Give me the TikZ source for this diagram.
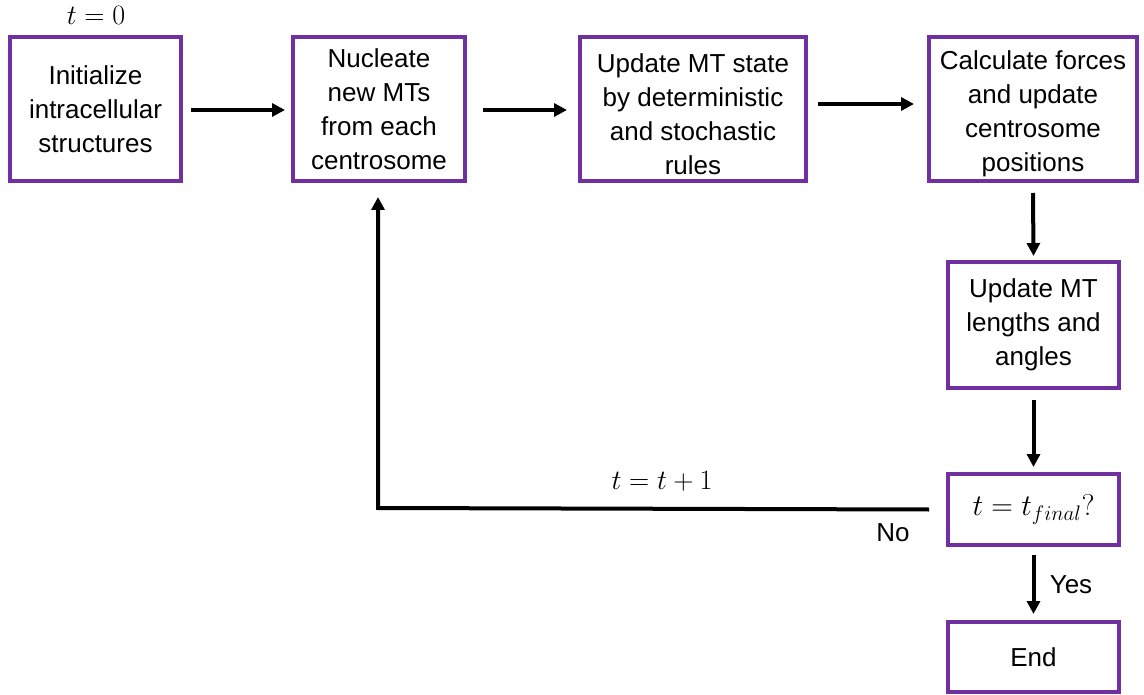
\RequirePackage{fix-cm}
\documentclass[tikz,border=0pt]{standalone}
\usepackage{fontspec}
\setmainfont{Liberation Sans}
\usetikzlibrary{arrows.meta}
\definecolor{boxpurple}{HTML}{7030A0}
\newcommand{\lift}{\rule{0pt}{29pt}}
\begin{document}
\begin{tikzpicture}[x=1pt,y=-1pt,
  stepbox/.style={draw=boxpurple,line width=4pt,fill=white,align=center,inner sep=0pt,
    font=\fontsize{26}{34}\selectfont},
  flow/.style={line width=4pt,-{Triangle[length=13pt,width=13pt]}},
  lbl/.style={inner sep=0pt,font=\fontsize{26}{30}\selectfont},
  mlbl/.style={inner sep=0pt,font=\fontsize{28}{30}\selectfont}]
\useasboundingbox (0,0) rectangle (1144,695);
\node[stepbox,minimum width=171pt,minimum height=144pt] (init) at (95.5,109) {Initialize\\intracellular\\structures};
\node[stepbox,minimum width=172pt,minimum height=144pt] (nuc) at (379,109) {Nucleate\\new MTs\\from each\\centrosome};
\node[stepbox,minimum width=226pt,minimum height=144pt] (upd) at (693,109) {\lift Update MT state\\by deterministic\\and stochastic\\rules};
\node[stepbox,minimum width=208pt,minimum height=144pt] (calc) at (1033,109) {\lift Calculate forces\\and update\\centrosome\\positions};
\node[stepbox,minimum width=171pt,minimum height=126pt] (len) at (1033.5,325) {Update MT\\lengths and\\angles};
\node[stepbox,minimum width=171pt,minimum height=71pt,font=\fontsize{30}{34}\selectfont] (dec) at (1033.5,509.5) {$t=t_{final}?$};
\node[stepbox,minimum width=171pt,minimum height=70pt] (end) at (1033.5,657) {End};

\node[mlbl] (t0) at (96,15) {$t=0$};
\node[mlbl] (tinc) at (662,481) {$t=t+1$};
\node[lbl] (no) at (893,533) {No};
\node[lbl] (yes) at (1071,585) {Yes};

\coordinate (a1s) at (191,110); \coordinate (a1e) at (285,110);
\draw[flow] (a1s) -- (a1e);
\coordinate (a2s) at (483,110); \coordinate (a2e) at (567,110);
\draw[flow] (a2s) -- (a2e);
\coordinate (a3s) at (818,104); \coordinate (a3e) at (914,104);
\draw[flow] (a3s) -- (a3e);
\draw[flow] ([yshift=-10pt]calc.south) -- ([yshift=4pt]len.north);
\draw[flow] ([yshift=-10pt]len.south) -- ([yshift=5pt]dec.north);
\draw[flow] ([yshift=-8pt]dec.south) -- ([yshift=6pt]end.north);
\coordinate (loopc) at (378,508);
\draw[flow] ([xshift=-17pt]dec.west) -- (loopc) -- ([yshift=-14pt]nuc.south-|loopc);
\end{tikzpicture}
\end{document}
